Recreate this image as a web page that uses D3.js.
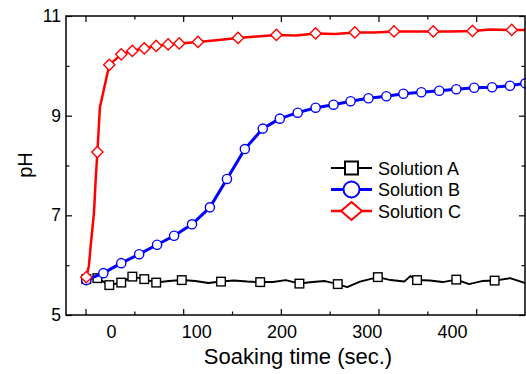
<!DOCTYPE html>
<html>
<head>
<meta charset="utf-8">
<script src="https://cdn.jsdelivr.net/npm/d3@7"></script>
<style>
	body { margin: 0; background: #fff; }
	svg { display: block; font-family: "Liberation Sans", Arial, sans-serif; }
</style>
</head>
<body>
<svg id="graph" width="526" height="374"></svg>
<script>
// Solution A: line points, marker indices
var timeA = [-29, -16, -2, 12, 25, 39, 53, 68, 83, 99, 114, 129, 144, 160, 175, 190, 205, 221, 236, 251, 266, 277, 292, 313, 328, 344, 351, 359, 374, 389, 405, 420, 435, 450, 468, 486];
var phA = [5.72, 5.74, 5.60, 5.65, 5.77, 5.72, 5.65, 5.68, 5.70, 5.68, 5.64, 5.67, 5.69, 5.67, 5.66, 5.66, 5.70, 5.63, 5.66, 5.68, 5.62, 5.56, 5.67, 5.76, 5.70, 5.67, 5.78, 5.70, 5.69, 5.66, 5.71, 5.62, 5.68, 5.69, 5.74, 5.64];
var markA = [0, 1, 2, 3, 4, 5, 6, 8, 11, 14, 17, 20, 23, 27, 30, 33];

// Solution B
var timeB = [-29, -9, 12, 33, 54, 74, 95, 116, 136, 157, 178, 198, 219, 240, 261, 281, 302, 323, 343, 364, 385, 405, 426, 447, 468, 486];
var phB = [5.70, 5.84, 6.04, 6.22, 6.41, 6.59, 6.82, 7.16, 7.73, 8.33, 8.74, 8.94, 9.06, 9.16, 9.22, 9.29, 9.35, 9.39, 9.44, 9.47, 9.50, 9.53, 9.56, 9.57, 9.60, 9.65];
var markB = d3.range(timeB.length);

// Solution C
var timeC = [-29, -26, -24, -20, -18, -16, -13, -2, 12, 25, 39, 53, 67, 80, 102, 126, 149, 171, 194, 217, 240, 263, 286, 309, 332, 354, 378, 400, 424, 445, 470, 486];
var phC = [5.76, 5.98, 6.36, 7.05, 7.71, 8.27, 9.17, 10.02, 10.23, 10.30, 10.35, 10.40, 10.43, 10.45, 10.48, 10.52, 10.56, 10.59, 10.62, 10.61, 10.65, 10.64, 10.67, 10.67, 10.69, 10.69, 10.69, 10.69, 10.70, 10.73, 10.72, 10.72];
var markC = [0, 5, 7, 8, 9, 10, 11, 12, 13, 14, 16, 18, 20, 22, 24, 26, 28, 30];

var xLabels = [0, 100, 200, 300, 400];
var yLabels = [5, 7, 9, 11];

var L = 66, R = 525, T = 16, B = 315;

var x = d3.scaleLinear().domain([-52.8, 485.6]).range([L, R]);
// tick marks on the frame do not sit under the labels in the original
var xFrame = d3.scaleLinear().domain([-20, 450]).range([L, R]);
var y = d3.scaleLinear().domain([5, 11]).range([B, T]);

var series = [
	{ name: 'Solution A', t: timeA, v: phA, marks: markA, color: '#000000', shape: 'square', width: 2 },
	{ name: 'Solution B', t: timeB, v: phB, marks: markB, color: '#0000ff', shape: 'circle', width: 3 },
	{ name: 'Solution C', t: timeC, v: phC, marks: markC, color: '#ff0000', shape: 'diamond', width: 2.5 }
];

var svg = d3.select('#graph');

svg.append('clipPath').attr('id', 'clip')
	.append('rect').attr('x', L).attr('y', T).attr('width', R - L).attr('height', B - T);

function marker(g, shape, cx, cy, sx, sy, color, sw) {
	var m;
	if (shape == 'square') {
		m = g.append('rect').attr('x', cx - sx).attr('y', cy - sx).attr('width', 2 * sx).attr('height', 2 * sx);
	} else if (shape == 'circle') {
		m = g.append('circle').attr('cx', cx).attr('cy', cy).attr('r', sx);
	} else {
		m = g.append('path').attr('d', 'M' + cx + ',' + (cy - sy) + 'L' + (cx + sx) + ',' + cy +
			'L' + cx + ',' + (cy + sy) + 'L' + (cx - sx) + ',' + cy + 'Z');
	}
	m.attr('fill', '#fff').attr('stroke', color).attr('stroke-width', sw);
}

var line = d3.line()
	.x(function (d) { return x(d[0]); })
	.y(function (d) { return y(d[1]); });

var sizes = { square: [4.3, 4.3], circle: [4.6, 4.6], diamond: [5.6, 5.6] };

series.forEach(function (s) {
	var pts = s.t.map(function (t, i) { return [t, s.v[i]]; });
	var g = svg.append('g');
	g.append('path')
		.attr('d', line(pts))
		.attr('clip-path', 'url(#clip)')
		.attr('fill', 'none')
		.attr('stroke', s.color)
		.attr('stroke-width', s.width)
		.attr('stroke-linejoin', 'round');
	s.marks.forEach(function (i) {
		marker(g, s.shape, x(pts[i][0]), y(pts[i][1]), sizes[s.shape][0], sizes[s.shape][1], s.color, 1.4);
	});
});

// ticks, all pointing in
function ticks(axis, tx, ty, vals, size) {
	var g = svg.append('g').attr('transform', 'translate(' + tx + ',' + ty + ')')
		.call(axis.tickValues(vals).tickSize(-size).tickFormat(''));
	g.select('.domain').remove();
	g.selectAll('line').attr('stroke', '#000').attr('stroke-width', 1.2);
}
ticks(d3.axisBottom(xFrame), 0, B, [0, 100, 200, 300, 400], 6);
ticks(d3.axisBottom(xFrame), 0, B, [50, 150, 250, 350], 3.5);
ticks(d3.axisTop(xFrame), 0, T, [0, 100, 200, 300, 400], 6);
ticks(d3.axisTop(xFrame), 0, T, [50, 150, 250, 350], 3.5);
ticks(d3.axisLeft(y), L, 0, yLabels, 6);
ticks(d3.axisLeft(y), L, 0, [6, 8, 10], 3.5);
ticks(d3.axisRight(y), R, 0, yLabels, 6);
ticks(d3.axisRight(y), R, 0, [6, 8, 10], 3.5);

var xl = svg.append('g').attr('transform', 'translate(0,' + B + ')')
	.call(d3.axisBottom(x).tickValues(xLabels).tickSize(0).tickPadding(10).tickFormat(d3.format('d')))
	.attr('font-family', null).attr('font-size', null);
xl.select('.domain').remove();
xl.selectAll('text').attr('font-size', 18).attr('fill', '#000');

var yl = svg.append('g').attr('transform', 'translate(' + L + ',0)')
	.call(d3.axisLeft(y).tickValues(yLabels).tickSize(0).tickPadding(5).tickFormat(d3.format('d')))
	.attr('font-family', null).attr('font-size', null);
yl.select('.domain').remove();
yl.selectAll('text').attr('font-size', 17.5).attr('fill', '#000');

svg.append('rect')
	.attr('x', L).attr('y', T).attr('width', R - L).attr('height', B - T)
	.attr('fill', 'none').attr('stroke', '#000').attr('stroke-width', 1.5);

svg.append('text')
	.attr('x', 298).attr('y', 364)
	.attr('text-anchor', 'middle')
	.attr('font-size', 22)
	.text('Soaking time (sec.)');

svg.append('text')
	.attr('transform', 'translate(32,165) rotate(-90)')
	.attr('text-anchor', 'middle')
	.attr('font-size', 20)
	.text('pH');

// legend
var legendSize = { square: [6.5, 6.5], circle: [8, 8], diamond: [10.5, 9] };
series.forEach(function (s, i) {
	var ly = 168 + i * 21.5;
	var g = svg.append('g');
	g.append('line')
		.attr('x1', 331).attr('x2', 372).attr('y1', ly).attr('y2', ly)
		.attr('stroke', s.color).attr('stroke-width', s.width);
	marker(g, s.shape, 351.5, ly, legendSize[s.shape][0], legendSize[s.shape][1], s.color, 2);
	g.append('text')
		.attr('x', 378).attr('y', ly + 6.5)
		.attr('font-size', 18)
		.text(s.name);
});
</script>
</body>
</html>
